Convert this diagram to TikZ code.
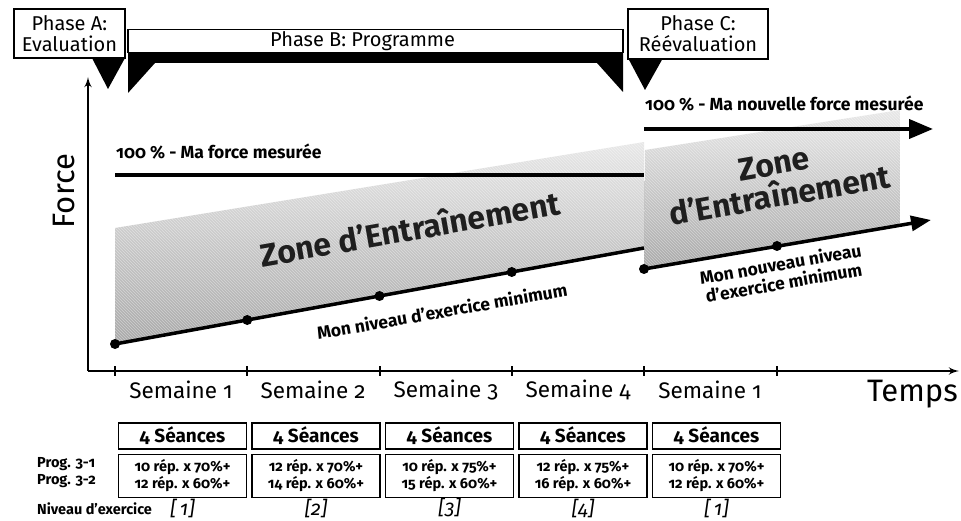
\documentclass[tikz,border=0pt]{standalone}
\usepackage{fontspec}
\setmainfont{Fira Sans}[Numbers=OldStyle]
\usetikzlibrary{positioning,shapes,arrows,arrows.meta,backgrounds,calc,patterns}
\tikzstyle{phasebox} = [rectangle, draw, line width=1.5, fill=white, %
   align=center, inner sep=0pt, font=\fontsize{20}{21}\selectfont]
\tikzstyle{seancebox} = [rectangle, draw, line width=1.5, text centered, %
   minimum width=128pt, minimum height=26pt, inner sep=0pt, font=\bfseries\fontsize{19}{20}\selectfont]
\tikzstyle{repbox} = [seancebox, minimum height=43pt, align=center, %
   font=\bfseries\fontsize{14.5}{17}\selectfont]
\tikzstyle{axis} = [draw, line width=2.5, -latex']
\tikzstyle{tick} = [draw, line width=2]
\tikzstyle{forceline} = [draw, line width=4]
\tikzstyle{minline} = [draw, line width=3.5]
\tikzstyle{dot} = [circle, fill=black, inner sep=0pt, minimum size=10pt]
\tikzstyle{zone} = [top color=gray!18, bottom color=gray!68]
\tikzstyle{hatch} = [pattern=north west lines, pattern color=white, opacity=0.4]
\tikzstyle{zonetext} = [rotate=10, align=center, inner sep=0pt, text=black!88, %
   font=\bfseries\fontsize{32}{32}\selectfont]
\tikzstyle{mintext} = [rotate=10, align=center, inner sep=0pt, font=\bfseries\fontsize{17.5}{19}\selectfont]
\tikzstyle{forcetext} = [anchor=west, inner sep=0pt, font=\bfseries\fontsize{17.5}{18}\selectfont]
\tikzstyle{weektext} = [inner sep=0pt, font=\fontsize{22.5}{23}\selectfont]
\tikzstyle{rowtag} = [anchor=west, inner sep=0pt, font=\bfseries\fontsize{14.5}{15}\selectfont]
\tikzstyle{levelmark} = [inner sep=0pt, font=\itshape\fontsize{20}{20}\selectfont]

\begin{document}
\begin{tikzpicture}[x=1pt, y=-1pt]
         \useasboundingbox (0,0) rectangle (961,521);

      % TRAINING ZONES %%%%%%%%%%%%%%%%%%%%%%%%%%%%%%%%%%%%%%%%%%%%%%%%%%
         \coordinate (min1a) at (115,344);
         \coordinate (min1b) at (644,248);
         \coordinate (min2a) at (644,269);
         \coordinate (min2b) at (931,220);
         \path[zone] (min1a) -- (min1b) -- (644,142) -- (115,228) -- cycle;
         \path[hatch] (min1a) -- (min1b) -- (644,142) -- (115,228) -- cycle;
         \path[zone] (min2a) -- (900,225) -- (900,110) -- (645,150) -- cycle;
         \path[hatch] (min2a) -- (900,225) -- (900,110) -- (645,150) -- cycle;

         \node[zonetext] (zone1) at (410,228) {Zone d’Entraînement};
         \node[zonetext] (zone2) at (777,180) {Zone\\d’Entraînement};

      % AXES %%%%%%%%%%%%%%%%%%%%%%%%%%%%%%%%%%%%%%%%%%%%%%%%%%%%%%%%%%%%
         \coordinate (origin) at (88,371);
         \coordinate (ytip) at (88,77);
         \coordinate (xtip) at (959,371);
         \path [axis] (origin) -- (ytip);
         \path [axis] (origin) -- (xtip);
         \path [tick] (115,366) -- (115,376);
         \path [tick] (247,366) -- (247,376);
         \path [tick] (380,366) -- (380,376);
         \path [tick] (512,366) -- (512,376);
         \path [tick] (644,366) -- (644,376);
         \path [tick] (777,366) -- (777,376);

         \node[rotate=90, inner sep=0pt, font=\fontsize{31}{31}\selectfont] (force) at (64,191) {Force};
         \node[anchor=east, inner sep=0pt, font=\fontsize{31}{31}\selectfont] (temps) at (958,394) {Temps};
         \node[weektext] (week1) at (181,390) {Semaine 1};
         \node[weektext] (week2) at (313,390) {Semaine 2};
         \node[weektext] (week3) at (446,390) {Semaine 3};
         \node[weektext] (week4) at (578,390) {Semaine 4};
         \node[weektext] (week5) at (710,390) {Semaine 1};

      % FORCE LINES %%%%%%%%%%%%%%%%%%%%%%%%%%%%%%%%%%%%%%%%%%%%%%%%%%%%%
         \coordinate (force1a) at (115,175);
         \coordinate (force1b) at (644,175);
         \coordinate (force2a) at (644,129);
         \coordinate (force2b) at (933,129);
         \path [forceline] (force1a) -- (force1b);
         \path [forceline, -{Triangle[length=24pt,width=19pt]}] (force2a) -- (force2b);
         \node[forcetext] (maxold) at (116,152) {100 \% - Ma force mesurée};
         \node[forcetext] (maxnew) at (645,104) {100 \% - Ma nouvelle force mesurée};

      % MINIMUM LEVEL %%%%%%%%%%%%%%%%%%%%%%%%%%%%%%%%%%%%%%%%%%%%%%%%%%%
         \path [minline] (min1a) -- (min1b);
         \path [minline, -{Triangle[length=20pt,width=15pt]}] (min2a) -- (min2b);
         \node[dot] (dot1) at (min1a) {};
         \node[dot] (dot2) at ($(min1a)!0.25!(min1b)$) {};
         \node[dot] (dot3) at ($(min1a)!0.5!(min1b)$) {};
         \node[dot] (dot4) at ($(min1a)!0.75!(min1b)$) {};
         \node[dot] (dot5) at (min2a) {};
         \node[dot] (dot6) at (777,246) {};
         \node[mintext] (minold) at (442,311) {Mon niveau d’exercice minimum};
         \node[mintext] (minnew) at (782,273) {Mon nouveau niveau\\d’exercice minimum};

      % PHASES %%%%%%%%%%%%%%%%%%%%%%%%%%%%%%%%%%%%%%%%%%%%%%%%%%%%%%%%%%
         \fill (92,58) -- (125,58) -- (108,89) -- cycle;
         \fill (128,52) -- (623,52) -- (623,92) -- (597,63) -- (155,63) -- (128,93) -- cycle;
         \fill (628,58) -- (663,58) -- (645,90) -- cycle;
         \node[phasebox, minimum width=111pt, minimum height=49pt] (phaseA) at (69.5,33.5) {Phase A:\\Evaluation};
         \node[phasebox, minimum width=495pt, minimum height=23pt] (phaseB) at (375.5,41) {\hspace*{-26pt}Phase B: Programme};
         \node[phasebox, minimum width=140pt, minimum height=50pt] (phaseC) at (698,34) {Phase C:\\Réévaluation};

      % TABLE %%%%%%%%%%%%%%%%%%%%%%%%%%%%%%%%%%%%%%%%%%%%%%%%%%%%%%%%%%%
         \node[seancebox] (seance1) at (182.5,436) {4 Séances};
         \node[seancebox, right=4pt of seance1] (seance2) {4 Séances};
         \node[seancebox, right=4pt of seance2] (seance3) {4 Séances};
         \node[seancebox, right=4pt of seance3] (seance4) {4 Séances};
         \node[seancebox, right=4pt of seance4] (seance5) {4 Séances};
         \node[repbox, below=4pt of seance1] (rep1) {10 rép. x 70\%+\\12 rép. x 60\%+};
         \node[repbox, below=4pt of seance2] (rep2) {12 rép. x 70\%+\\14 rép. x 60\%+};
         \node[repbox, below=4pt of seance3] (rep3) {10 rép. x 75\%+\\15 rép. x 60\%+};
         \node[repbox, below=4pt of seance4] (rep4) {12 rép. x 75\%+\\16 rép. x 60\%+};
         \node[repbox, below=4pt of seance5] (rep5) {10 rép. x 70\%+\\12 rép. x 60\%+};

         \node[rowtag] (prog1) at (37,464) {Prog. 3-1};
         \node[rowtag] (prog2) at (37,481) {Prog. 3-2};
         \node[rowtag] (niveau) at (37,509) {Niveau d’exercice};
         \node[levelmark] (level1) at ([yshift=1pt]rep1.center |- niveau) {[\,1]};
         \node[levelmark] (level2) at ([yshift=1pt]rep2.center |- niveau) {[2]};
         \node[levelmark] (level3) at ([yshift=1pt]rep3.center |- niveau) {[3]};
         \node[levelmark] (level4) at ([yshift=1pt]rep4.center |- niveau) {[4]};
         \node[levelmark] (level5) at ([yshift=1pt]rep5.center |- niveau) {[\,1]};

      \end{tikzpicture}
\end{document}
